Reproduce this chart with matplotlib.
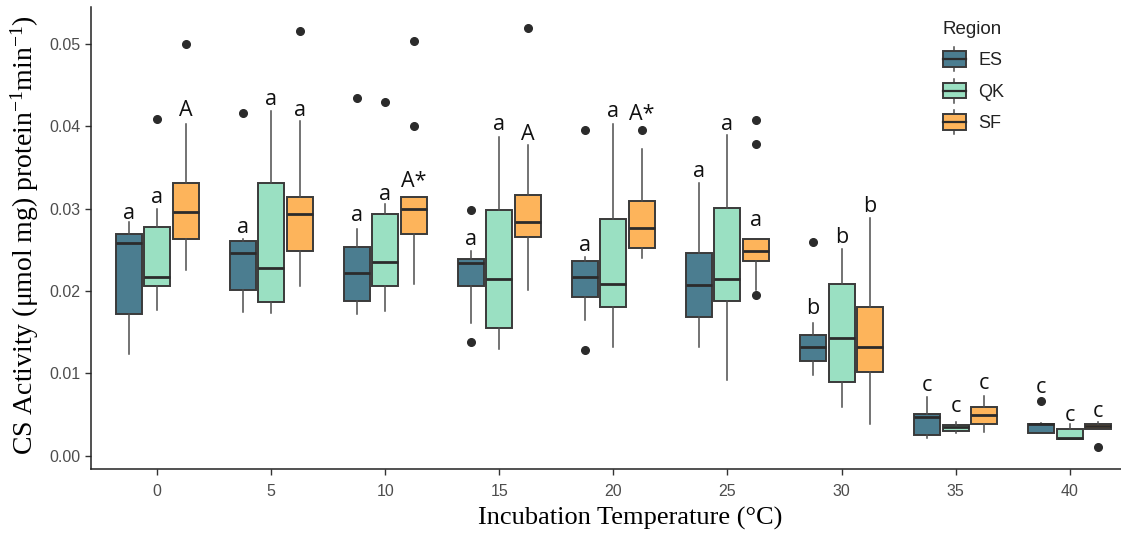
import matplotlib
matplotlib.use("Agg")
import matplotlib.pyplot as plt
import numpy as np
from matplotlib.legend_handler import HandlerBase
from matplotlib.patches import Rectangle
from matplotlib.lines import Line2D

plt.rcParams["mathtext.fontset"] = "custom"
plt.rcParams["mathtext.rm"] = "Liberation Serif"
plt.rcParams["mathtext.it"] = "Liberation Serif:italic"
plt.rcParams["mathtext.bf"] = "Liberation Serif:bold"

temperatures = [0, 5, 10, 15, 20, 25, 30, 35, 40]
regions = ["ES", "QK", "SF"]
colors = {"ES": "#4B7D90", "QK": "#9AE0C2", "SF": "#FDB45B"}

# per region, per temperature: whislo, q1, median, q3, whishi
es_whislo = [0.0124, 0.0175, 0.0172, 0.0161, 0.0165, 0.0132, 0.0098, 0.0021, 0.0028]
es_q1     = [0.0172, 0.0201, 0.0188, 0.0206, 0.0193, 0.0169, 0.0115, 0.0025, 0.0028]
es_med    = [0.0258, 0.0246, 0.0222, 0.0234, 0.0217, 0.0207, 0.0132, 0.0047, 0.0038]
es_q3     = [0.0269, 0.0261, 0.0254, 0.0239, 0.0237, 0.0246, 0.0146, 0.0051, 0.0039]
es_whishi = [0.0284, 0.0263, 0.0275, 0.0249, 0.0241, 0.0331, 0.0161, 0.0071, 0.0040]
es_fliers = [[], [0.0416], [0.0434], [0.0298, 0.0138], [0.0395, 0.0128], [], [0.0259], [], [0.0066]]

qk_whislo = [0.0177, 0.0173, 0.0176, 0.0130, 0.0132, 0.0092, 0.0059, 0.0027, 0.0020]
qk_q1     = [0.0206, 0.0187, 0.0206, 0.0155, 0.0180, 0.0188, 0.0089, 0.0030, 0.0020]
qk_med    = [0.0217, 0.0228, 0.0235, 0.0214, 0.0209, 0.0214, 0.0143, 0.0035, 0.0022]
qk_q3     = [0.0278, 0.0331, 0.0293, 0.0298, 0.0288, 0.0301, 0.0208, 0.0037, 0.0032]
qk_whishi = [0.0299, 0.0419, 0.0306, 0.0387, 0.0403, 0.0389, 0.0251, 0.0041, 0.0038]
qk_fliers = [[0.0409], [], [0.0430], [], [], [], [], [], []]

sf_whislo = [0.0225, 0.0206, 0.0209, 0.0201, 0.0240, 0.0201, 0.0038, 0.0029, 0.0033]
sf_q1     = [0.0263, 0.0248, 0.0269, 0.0265, 0.0252, 0.0236, 0.0102, 0.0038, 0.0033]
sf_med    = [0.0296, 0.0294, 0.0299, 0.0284, 0.0276, 0.0249, 0.0132, 0.0050, 0.0036]
sf_q3     = [0.0331, 0.0314, 0.0314, 0.0316, 0.0309, 0.0263, 0.0180, 0.0059, 0.0038]
sf_whishi = [0.0403, 0.0407, 0.0314, 0.0377, 0.0372, 0.0263, 0.0289, 0.0072, 0.0041]
sf_fliers = [[0.0500], [0.0516], [0.0504, 0.0400], [0.0519], [0.0396], [0.0408, 0.0378, 0.0195], [], [], [0.0010]]

# significance letters and the height of their baseline
es_letters = ["a", "a", "a", "a", "a", "a", "b", "c", "c"]
qk_letters = ["a", "a", "a", "a", "a", "a", "b", "c", "c"]
sf_letters = ["A", "a", "A*", "A", "A*", "a", "b", "c", "c"]
es_letter_y = [0.0287, 0.0271, 0.0285, 0.0256, 0.0248, 0.0339, 0.0172, 0.0078, 0.0076]
qk_letter_y = [0.0307, 0.0426, 0.0311, 0.0396, 0.0411, 0.0396, 0.0258, 0.0053, 0.0042]
sf_letter_y = [0.0412, 0.0413, 0.0326, 0.0383, 0.0408, 0.0279, 0.0296, 0.0081, 0.0047]

series = {
    "ES": (es_whislo, es_q1, es_med, es_q3, es_whishi, es_fliers, es_letters, es_letter_y),
    "QK": (qk_whislo, qk_q1, qk_med, qk_q3, qk_whishi, qk_fliers, qk_letters, qk_letter_y),
    "SF": (sf_whislo, sf_q1, sf_med, sf_q3, sf_whishi, sf_fliers, sf_letters, sf_letter_y),
}

fig = plt.figure(figsize=(11.21, 5.33), dpi=100)
ax = fig.add_axes([0.0812, 0.12, 0.9188, 0.867])

offsets = {"ES": -0.25, "QK": 0.0, "SF": 0.25}
box_w = 0.228
edge = "#3A3A3A"
for reg in regions:
    lo, q1, med, q3, hi, fl, letters, ly = series[reg]
    stats = []
    for i in range(len(temperatures)):
        stats.append(dict(whislo=lo[i], q1=q1[i], med=med[i], q3=q3[i],
                          whishi=hi[i], fliers=fl[i]))
    pos = [i + offsets[reg] for i in range(len(temperatures))]
    ax.bxp(stats, positions=pos, widths=box_w, patch_artist=True, showcaps=False,
           boxprops=dict(facecolor=colors[reg], edgecolor=edge, linewidth=1.4),
           medianprops=dict(color="#2B2B2B", linewidth=2.0, solid_capstyle="butt"),
           whiskerprops=dict(color="#4D4D4D", linewidth=1.1),
           flierprops=dict(marker="o", markersize=5.5, markerfacecolor="#2B2B2B",
                           markeredgecolor="#2B2B2B"),
           manage_ticks=False, zorder=2)
    for i, p in enumerate(pos):
        ax.text(p, ly[i], letters[i], ha="center", va="baseline",
                fontsize=15.5, family="Open Sans", color="#111111")

ax.set_xlim(-0.58, 8.45)
ax.set_ylim(-0.00162, 0.0545)
ax.set_xticks(range(len(temperatures)))
ax.set_xticklabels([str(t) for t in temperatures])
ax.set_yticks([0.0, 0.01, 0.02, 0.03, 0.04, 0.05])
ax.set_yticklabels(["0.00", "0.01", "0.02", "0.03", "0.04", "0.05"])
for s in ["top", "right"]:
    ax.spines[s].set_visible(False)
for s in ["left", "bottom"]:
    ax.spines[s].set_linewidth(1.1)
    ax.spines[s].set_color("#222222")
ax.tick_params(axis="both", colors="#333333", labelcolor="#4D4D4D",
               labelsize=11.5, length=4, width=1.0)
ax.tick_params(axis="x", pad=7)
for lab in ax.get_xticklabels() + ax.get_yticklabels():
    lab.set_family("Liberation Sans")

ax.set_xlabel("Incubation Temperature (°C)", family="Liberation Serif",
              fontsize=19)
ax.set_ylabel("CS Activity (μmol mg) protein$^{-1}$min$^{-1}$)", family="Liberation Serif",
              fontsize=20)
ax.xaxis.set_label_coords(0.523, -0.082)
ax.yaxis.set_label_coords(-0.049, 0.505)


class BoxHandler(HandlerBase):
    def create_artists(self, legend, orig_handle, xdescent, ydescent, width, height,
                       fontsize, trans):
        fc = orig_handle.get_facecolor()
        cx = -xdescent + width / 2
        by = -ydescent
        bh = height
        rect = Rectangle((-xdescent, by), width, bh, facecolor=fc,
                         edgecolor=edge, linewidth=1.4, transform=trans)
        med = Line2D([-xdescent, -xdescent + width], [by + bh / 2] * 2,
                     color="#2B2B2B", linewidth=1.6, transform=trans)
        w1 = Line2D([cx, cx], [by + bh, by + bh + height * 0.28], color="#4D4D4D",
                    linewidth=1.1, transform=trans)
        w2 = Line2D([cx, cx], [by, by - height * 0.28], color="#4D4D4D",
                    linewidth=1.1, transform=trans)
        return [w1, w2, rect, med]


handles = [Rectangle((0, 0), 1, 1, facecolor=colors[r]) for r in regions]
leg = ax.legend(handles, regions, title="Region", loc="upper left",
                bbox_to_anchor=(0.811, 1.005), frameon=False,
                handler_map={Rectangle: BoxHandler()},
                handlelength=1.27, handleheight=0.94, labelspacing=0.75,
                handletextpad=0.72, alignment="left",
                prop={"family": "Liberation Sans", "size": 13})
leg.get_title().set_family("Liberation Sans")
leg.get_title().set_fontsize(13.5)
leg.get_title().set_color("#222222")
for t in leg.get_texts():
    t.set_color("#222222")

fig.savefig("out.png", dpi=100)
